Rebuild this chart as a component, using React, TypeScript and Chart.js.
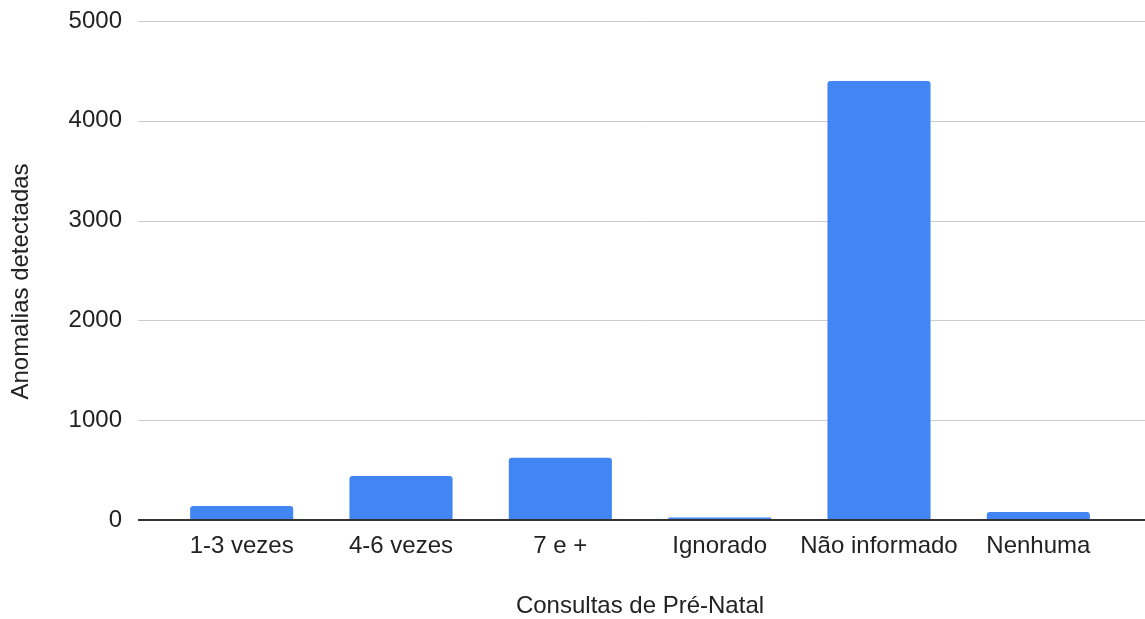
import React, { useEffect, useRef } from "react";
import { Chart, registerables } from "chart.js";

Chart.register(...registerables);

const categories = ["1-3 vezes", "4-6 vezes", "7 e +", "Ignorado", "Não informado", "Nenhuma"];
const anomalias = [140, 440, 625, 25, 4400, 80];
const yTicks = [0, 1000, 2000, 3000, 4000, 5000];
const yTitle = "Anomalias detectadas";
const xTitle = "Consultas de Pré-Natal";

const FONT = '"Liberation Sans", Arial, sans-serif';
const TEXT = "#222222";

// Horizontal grid lines that run past the plot area on both sides, plus the dark zero line
const wideGrid = {
  id: "wideGrid",
  beforeDatasetsDraw(chart: any) {
    const { ctx, scales } = chart;
    const y = scales.y;
    const x0 = 138;
    const x1 = chart.width;
    ctx.save();
    yTicks.forEach((v) => {
      const py = Math.round(y.getPixelForValue(v));
      if (v === 0) return;
      ctx.strokeStyle = "#cccccc";
      ctx.lineWidth = 1;
      ctx.beginPath();
      ctx.moveTo(x0, py + 0.5);
      ctx.lineTo(x1, py + 0.5);
      ctx.stroke();
    });
    ctx.restore();
  },
  afterDatasetsDraw(chart: any) {
    const { ctx, scales } = chart;
    const py = Math.round(scales.y.getPixelForValue(0));
    ctx.save();
    ctx.strokeStyle = "#333333";
    ctx.lineWidth = 2;
    ctx.beginPath();
    ctx.moveTo(138, py);
    ctx.lineTo(chart.width, py);
    ctx.stroke();
    ctx.restore();
  },
};

// Rotated value-axis title, set slightly below the plot's vertical centre
const sideTitle = {
  id: "sideTitle",
  afterDraw(chart: any) {
    const { ctx, chartArea } = chart;
    const cy = (chartArea.top + chartArea.bottom) / 2 + 11;
    ctx.save();
    ctx.translate(21, cy);
    ctx.rotate(-Math.PI / 2);
    ctx.font = `24px ${FONT}`;
    ctx.fillStyle = TEXT;
    ctx.textAlign = "center";
    ctx.textBaseline = "middle";
    ctx.fillText(yTitle, 0, 0);
    ctx.restore();
  },
};

export default function App() {
  const ref = useRef<HTMLCanvasElement | null>(null);

  useEffect(() => {
    if (!ref.current) return;
    const chart = new Chart(ref.current, {
      type: "bar",
      data: {
        labels: categories,
        datasets: [
          {
            label: yTitle,
            data: anomalias,
            backgroundColor: "#4285f4",
            borderSkipped: "bottom",
            borderRadius: { topLeft: 3, topRight: 3, bottomLeft: 0, bottomRight: 0 },
            categoryPercentage: 1,
            barPercentage: 0.647,
          },
        ],
      },
      options: {
        responsive: false,
        animation: false,
        layout: { padding: { left: 0, right: 27, top: 21, bottom: 0 } },
        plugins: {
          legend: { display: false },
          tooltip: { enabled: false },
        },
        scales: {
          x: {
            grid: { display: false, drawTicks: false },
            border: { display: false },
            ticks: {
              color: TEXT,
              font: { family: FONT, size: 24 },
              padding: 12,
              maxRotation: 0,
              autoSkip: false,
            },
            title: {
              display: true,
              text: xTitle,
              color: TEXT,
              font: { family: FONT, size: 24 },
              padding: { top: 0, bottom: -2 },
            },
            afterFit(scale: any) {
              scale.height = 99;
            },
          },
          y: {
            min: 0,
            max: 5000,
            grid: { display: false, drawTicks: true, tickLength: 40 },
            border: { display: false },
            afterBuildTicks(scale: any) {
              scale.ticks = yTicks.map((v) => ({ value: v }));
            },
            ticks: {
              color: TEXT,
              font: { family: FONT, size: 24 },
              padding: 0,
              callback: (v: any) => String(v),
            },
            title: { display: false },
            afterFit(scale: any) {
              scale.width = 162;
            },
          },
        },
      },
      plugins: [wideGrid, sideTitle],
    });
    return () => chart.destroy();
  }, []);

  return (
    <div style={{ position: "fixed", left: 0, top: 0, width: 1145, height: 619, background: "#ffffff" }}>
      <canvas ref={ref} width={1145} height={619} style={{ display: "block" }} />
    </div>
  );
}
